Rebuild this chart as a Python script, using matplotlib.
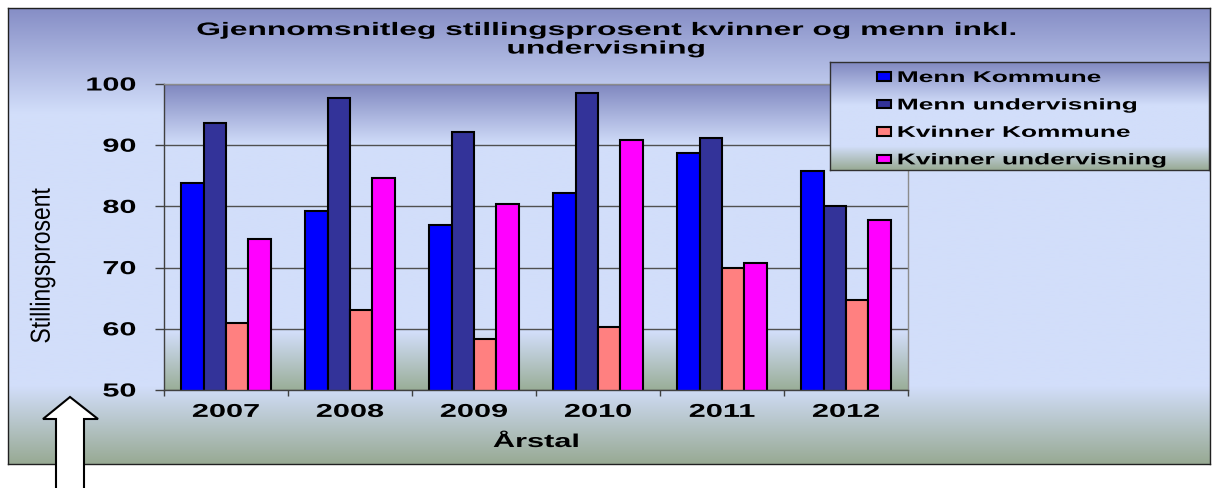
import numpy as np
import matplotlib
matplotlib.use('Agg')
import matplotlib.pyplot as plt
from matplotlib.patheffects import AbstractPathEffect
from matplotlib.transforms import Affine2D
from matplotlib.patches import Polygon
from matplotlib.colors import to_rgb
from matplotlib.ticker import NullFormatter

# ---------------- data ----------------
years = ['2007', '2008', '2009', '2010', '2011', '2012']
series_names = ['Menn Kommune', 'Menn undervisning', 'Kvinner Kommune', 'Kvinner undervisning']
menn_kommune = [83.8, 79.2, 77.0, 82.2, 88.8, 85.8]
menn_undervisning = [93.6, 97.7, 92.1, 98.5, 91.2, 80.0]
kvinner_kommune = [61.0, 63.1, 58.4, 60.3, 70.0, 64.7]
kvinner_undervisning = [74.7, 84.7, 80.4, 90.9, 70.8, 77.7]
y_ticks = [50, 60, 70, 80, 90, 100]

title = 'Gjennomsnitleg stillingsprosent kvinner og menn inkl.\nundervisning'
x_label = 'Årstal'
y_label = 'Stillingsprosent'

# ---------------- style ----------------
colors = ['#0000FF', '#333399', '#FF8080', '#FF00FF']
W, H, DPI = 1212, 488, 100
plt.rcParams['font.family'] = ['Liberation Sans', 'DejaVu Sans']


class HStretch(AbstractPathEffect):
    """Stretch text horizontally (display x) about an anchor."""
    def __init__(self, sx, anchor='center'):
        super().__init__()
        self._sx = sx
        self._anchor = anchor

    def draw_path(self, renderer, gc, tpath, affine, rgbFace=None):
        ext = tpath.transformed(affine).get_extents()
        if self._anchor == 'left':
            cx = ext.x0
        elif self._anchor == 'right':
            cx = ext.x1
        else:
            cx = 0.5 * (ext.x0 + ext.x1)
        t = Affine2D(np.array(affine.get_matrix(), dtype=float))
        t.translate(-cx, 0).scale(self._sx, 1).translate(cx, 0)
        renderer.draw_path(gc, tpath, t, rgbFace)


def gradient(stops, n=300):
    pos = [p for p, _ in stops]
    cols = np.array([to_rgb(c) for _, c in stops])
    t = np.linspace(0, 1, n)
    arr = np.stack([np.interp(t, pos, cols[:, i]) for i in range(3)], axis=-1)
    return arr[:, None, :]


def fx(px):
    return px / W


def fy(py):
    return 1 - py / H


fig = plt.figure(figsize=(W / DPI, H / DPI), dpi=DPI, facecolor='white')

# outer chart frame with gradient
bg = fig.add_axes([fx(8), fy(464), fx(1210) - fx(8), fy(8) - fy(464)], zorder=-1)
bg.imshow(gradient([(0, '#868EC6'), (0.23, '#D2DEFA'), (0.83, '#D2DEFA'), (1.0, '#98AA94')]),
          aspect='auto', extent=(0, 1, 0, 1), interpolation='bilinear')
bg.set_xticks([])
bg.set_yticks([])
for s in bg.spines.values():
    s.set_color('#202020')
    s.set_linewidth(1.0)

# main plot area
ax = fig.add_axes([fx(164), fy(390), fx(908) - fx(164), fy(84) - fy(390)], zorder=0)
ax.patch.set_visible(False)
ax.imshow(gradient([(0, '#8088C0'), (0.2, '#D2DEFA'), (0.81, '#D2DEFA'), (1.0, '#9AAE98')]),
          aspect='auto', extent=(-0.5, len(years) - 0.5, y_ticks[0], y_ticks[-1]),
          interpolation='bilinear', zorder=0)

x = np.arange(len(years))
bw = 0.181
values = [menn_kommune, menn_undervisning, kvinner_kommune, kvinner_undervisning]
bars = []
for i, (vals, c) in enumerate(zip(values, colors)):
    b = ax.bar(x + (i - 1.5) * bw, vals, width=bw, color=c, edgecolor='black',
               linewidth=1.5, zorder=2, label=series_names[i])
    bars.append(b)

ax.set_xlim(-0.5, len(years) - 0.5)
ax.set_ylim(y_ticks[0], y_ticks[-1])
ax.set_aspect('auto')
ax.set_yticks(y_ticks)
ax.set_axisbelow(True)
ax.yaxis.grid(True, color='#505050', linewidth=1.0)
ax.set_xticks(np.arange(-0.5, len(years), 1.0))
ax.xaxis.set_major_formatter(NullFormatter())
ax.set_xticks(x, minor=True)
ax.set_xticklabels(years, minor=True)
ax.tick_params(axis='x', which='major', direction='out', length=4, width=1, color='#404040')
ax.tick_params(axis='x', which='minor', length=0, pad=10, labelsize=13.4)
ax.tick_params(axis='y', direction='out', length=6.5, width=1, color='#404040', pad=13.7, labelsize=13.6)
for lab in ax.get_xticklabels(minor=True):
    lab.set_fontweight('bold')
    lab.set_path_effects([HStretch(1.65, 'center')])
for lab in ax.get_yticklabels():
    lab.set_fontweight('bold')
    lab.set_path_effects([HStretch(1.62, 'right')])

ax.spines['left'].set_color('#404040')
ax.spines['bottom'].set_color('#404040')
ax.spines['top'].set_color('#8C8C8C')
ax.spines['right'].set_color('#8C8C8C')
for s in ax.spines.values():
    s.set_linewidth(1.0)

xl = ax.set_xlabel(x_label, fontsize=13.4, fontweight='bold')
ax.xaxis.set_label_coords(0.5, (390 - 447) / 306)
xl.set_va('baseline')
xl.set_path_effects([HStretch(1.65, 'center')])

yl = ax.set_ylabel(y_label, fontsize=16.5)
ax.yaxis.set_label_coords((42 - 164) / 744, (390 - 266) / 306)
yl.set_va('center')
yl.set_path_effects([HStretch(1.2, 'center')])

# title
fig.text(fx(606), fy(22), title, ha='center', va='top', fontsize=13, fontweight='bold',
         linespacing=1.12, path_effects=[HStretch(1.76, 'center')])

# legend background box
lax = fig.add_axes([fx(830), fy(170), fx(1209) - fx(830), fy(62) - fy(170)], zorder=1)
lax.imshow(gradient([(0, '#8088C0'), (0.4, '#D2DEFA'), (0.78, '#D2DEFA'), (1.0, '#98AA94')]),
           aspect='auto', extent=(0, 1, 0, 1), interpolation='bilinear')
lax.set_xticks([])
lax.set_yticks([])
for s in lax.spines.values():
    s.set_color('#303030')
    s.set_linewidth(1.0)

leg = fig.legend(handles=bars, labels=series_names, loc='upper left',
                 bbox_to_anchor=(fx(877), fy(70)), bbox_transform=fig.transFigure,
                 frameon=False, borderpad=0, borderaxespad=0,
                 handlelength=0.92, handleheight=0.46, handletextpad=0.4,
                 labelspacing=0.8, prop={'weight': 'bold', 'size': 11.2})
for t in leg.get_texts():
    t.set_path_effects([HStretch(1.69, 'left')])

# block arrow annotation
arrow_px = [(70, 397), (98, 419), (84, 419), (84, 495), (56, 495), (56, 419), (43, 419)]
arrow = Polygon([(fx(a), fy(b)) for a, b in arrow_px], closed=True, transform=fig.transFigure,
                facecolor='white', edgecolor='black', linewidth=1.5, zorder=10)
fig.add_artist(arrow)

fig.savefig('out.png', dpi=DPI, facecolor='white')
